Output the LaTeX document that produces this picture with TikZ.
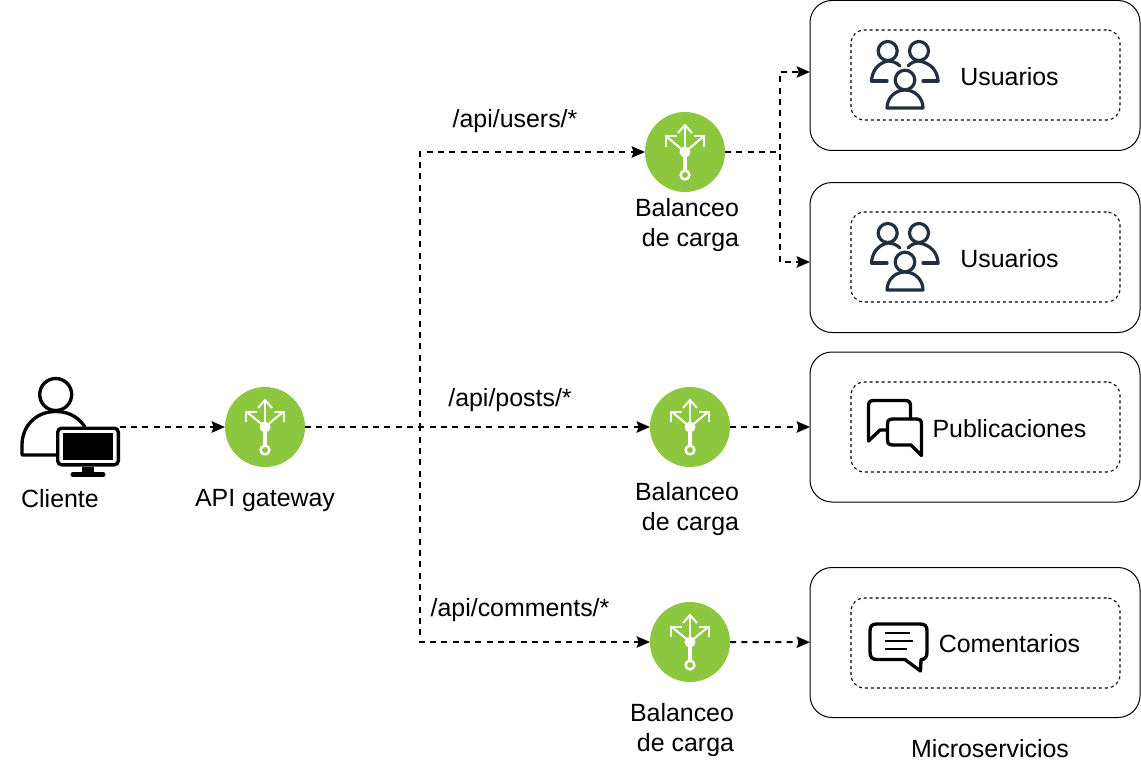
\documentclass[tikz,border=0pt]{standalone}
\usepackage{fontspec}
\setmainfont{Liberation Sans}
\usetikzlibrary{arrows.meta,calc}
\definecolor{lbgreen}{HTML}{8DC63F}
\definecolor{navy}{HTML}{232F3E}
\tikzset{
  x=0.75pt,y=-0.75pt,
  lab/.style={inner sep=0pt,outer sep=0pt,align=center,text=black,font=\fontsize{18.7}{22.5}\selectfont},
  lb/.style={circle,fill=lbgreen,draw=none,minimum size=60pt,inner sep=0pt,outer sep=0pt},
  outerbox/.style={draw=black,line width=0.75pt,rounded corners=16.5pt,minimum width=247.5pt,minimum height=112.5pt,inner sep=0pt,outer sep=0pt,fill=white},
  innerbox/.style={draw=black,line width=0.8pt,dash pattern=on 2.25pt off 2.25pt,rounded corners=10pt,minimum width=201.75pt,minimum height=67.5pt,inner sep=0pt,fill=none},
  conn/.style={draw=black,line width=1.5pt,dash pattern=on 4.5pt off 4pt,-{Stealth[length=10pt,width=8.5pt,inset=1.5pt]}},
  sharedrun/.style={draw=black,line width=1.9pt,dash pattern=on 4.5pt off 4pt},
  iconline/.style={draw=black,line width=2.5pt,line join=round,line cap=round},
  pics/balancer/.style={code={
    \draw[white,line width=1.5pt] (0,0) -- (0,-26);
    \draw[white,line width=1.5pt] (0,0) -- (-18,-15);
    \draw[white,line width=1.5pt] (0,0) -- (18,-15);
    \draw[white,line width=1.5pt,line join=miter] (-7,-19) -- (0,-27) -- (7,-19);
    \draw[white,line width=1.5pt,line join=miter] (-19,-5) -- (-19,-15.5) -- (-8.5,-15.5);
    \draw[white,line width=1.5pt,line join=miter] (19,-5) -- (19,-15.5) -- (8.5,-15.5);
    \draw[white,line width=3.4pt] (0,0) -- (0,19);
    \fill[white] (0,0) circle (5.5);
    \draw[white,line width=1.8pt,fill=lbgreen] (0,23) circle (4.4);
  }},
  pics/users/.style={code={
    \begin{scope}[draw=navy,line width=2.4pt,line cap=round,line join=round]
      \draw (17.7,-25) circle (9.5);
      \draw (49,-25) circle (9.5);
      \draw (35,4) circle (9.8);
      \draw (1.5,5) .. controls (2,-5) and (8,-13) .. (17.7,-15) .. controls (23,-15) and (27,-13) .. (30,-10);
      \draw (1.5,5) -- (17,5);
      \draw (68,5) .. controls (67.5,-5) and (61,-13) .. (49,-15) .. controls (44,-15) and (41,-13) .. (38,-10);
      \draw (53,5) -- (68,5);
      \draw (17,32) .. controls (17,22) and (25,14) .. (35,14) .. controls (45,14) and (53,22) .. (53,32) -- cycle;
    \end{scope}
  }}
}
\begin{document}
\begin{tikzpicture}
\useasboundingbox (0,0) rectangle (1141,763);
% boxes
\node[outerbox] (box1) at (975,75.5) {};
\node[outerbox] (box2) at (975,257.5) {};
\node[outerbox] (box3) at (975,427) {};
\node[outerbox] (box4) at (975,642.5) {};
\node[innerbox] (in1) at (985.5,75) {};
\node[innerbox] (in2) at (985.5,257) {};
\node[innerbox] (in3) at (985.5,427) {};
\node[innerbox] (in4) at (985.5,643) {};
% balancer nodes
\node[lb] (gw) at (265,427) {};
\node[lb] (lb1) at (685,152) {};
\node[lb] (lb2) at (690,427) {};
\node[lb] (lb3) at (690,642) {};
% client icon
\node[circle,draw=black,line width=2.5pt,minimum size=24pt,inner sep=0pt,outer sep=0pt] (head) at (55.7,394.5) {};
\draw[iconline,line cap=butt] (85,427) .. controls (77,415) and (66,411.5) .. (55.7,411.5) .. controls (35,411.5) and (22,427) .. (22,445) -- (22,455) -- (57,455);
\node[draw=black,fill=white,line width=2.5pt,rounded corners=3pt,minimum width=45.5pt,minimum height=27.5pt,inner sep=0pt,outer sep=0.9pt] (mon) at (88,446.5) {};
\fill[black] (63,433) rectangle (113,459.5);
\fill[black] (82,467) rectangle (94,473);
\draw[black,line width=3.8pt,line cap=round] (73,474.5) -- (103,474.5);
% group icons
\pic at (870,76) {users};
\pic at (870,258) {users};
% posts icon
\draw[iconline] (887,430) -- (880,430) -- (868.5,441) -- (868.5,406) .. controls (868.5,402) and (870,400.5) .. (874,400.5) -- (905,400.5) .. controls (909,400.5) and (910.5,402) .. (910.5,406) -- (910.5,419);
\draw[iconline] (893,419) -- (916,419) .. controls (920,419) and (921.5,420.5) .. (921.5,424) -- (921.5,455.5) -- (911,445) -- (893,445) .. controls (889,445) and (887.5,443.5) .. (887.5,440) -- (887.5,424) .. controls (887.5,420.5) and (889,419) .. (893,419) -- cycle;
% comment icon
\draw[iconline] (877,624) -- (920,624) .. controls (925,624) and (927,626) .. (927,631) -- (927,652) .. controls (927,657) and (925,659.5) .. (921,659.5) -- (920.5,671) -- (905,659.5) -- (877,659.5) .. controls (872,659.5) and (870,657) .. (870,652) -- (870,631) .. controls (870,626) and (872,624) .. (877,624) -- cycle;
\draw[draw=black,line width=1.9pt] (885,633) -- (910,633) (885,641) -- (913,641) (885,649) -- (907,649);
% waypoints
\coordinate (trunk) at (420,427);
\coordinate (split) at (780,152);
\coordinate (u1) at (810,72);
\coordinate (u2) at (810,262);
% connectors
\draw[conn] (mon.east |- gw) -- (gw);
\draw[conn] (gw) -- (lb2);
\draw[conn] (gw) -- (trunk) |- (lb1);
\draw[conn] (gw) -- (trunk) |- (lb3);
\draw[conn] (lb1) -- (split) |- (u1);
\draw[conn] (lb1) -- (split) |- (u2);
\draw[sharedrun] (gw) -- (trunk);
\draw[sharedrun] (lb1) -- (split);
\draw[conn] (lb2) -- (box3);
\draw[conn] (lb3) -- (box4);
% icons on the circles
\pic at (gw) {balancer};
\pic at (lb1) {balancer};
\pic at (lb2) {balancer};
\pic at (lb3) {balancer};
% labels
\node[lab] (t1) at (60,498.7) {Cliente};
\node[lab] (t2) at (265,501) {API gateway};
\node[lab] (t3) at (687,225) {Balanceo\\\hspace*{5.25pt}de carga};
\node[lab] (t4) at (687,509) {Balanceo\\\hspace*{5.25pt}de carga};
\node[lab] (t5) at (682,730) {Balanceo\\\hspace*{5.25pt}de carga};
\node[lab] (t6) at (515,121) {/api/users/*};
\node[lab] (t7) at (510,400) {/api/posts/*};
\node[lab] (t8) at (520,610.5) {/api/comments/*};
\node[lab] (t9) at (1009.5,76.7) {Usuarios};
\node[lab] (t10) at (1009.5,258.7) {Usuarios};
\node[lab] (t11) at (1009.5,428.7) {Publicaciones};
\node[lab] (t12) at (1009.5,643.7) {Comentarios};
\node[lab] (t13) at (990,748.7) {Microservicios};
\end{tikzpicture}
\end{document}
